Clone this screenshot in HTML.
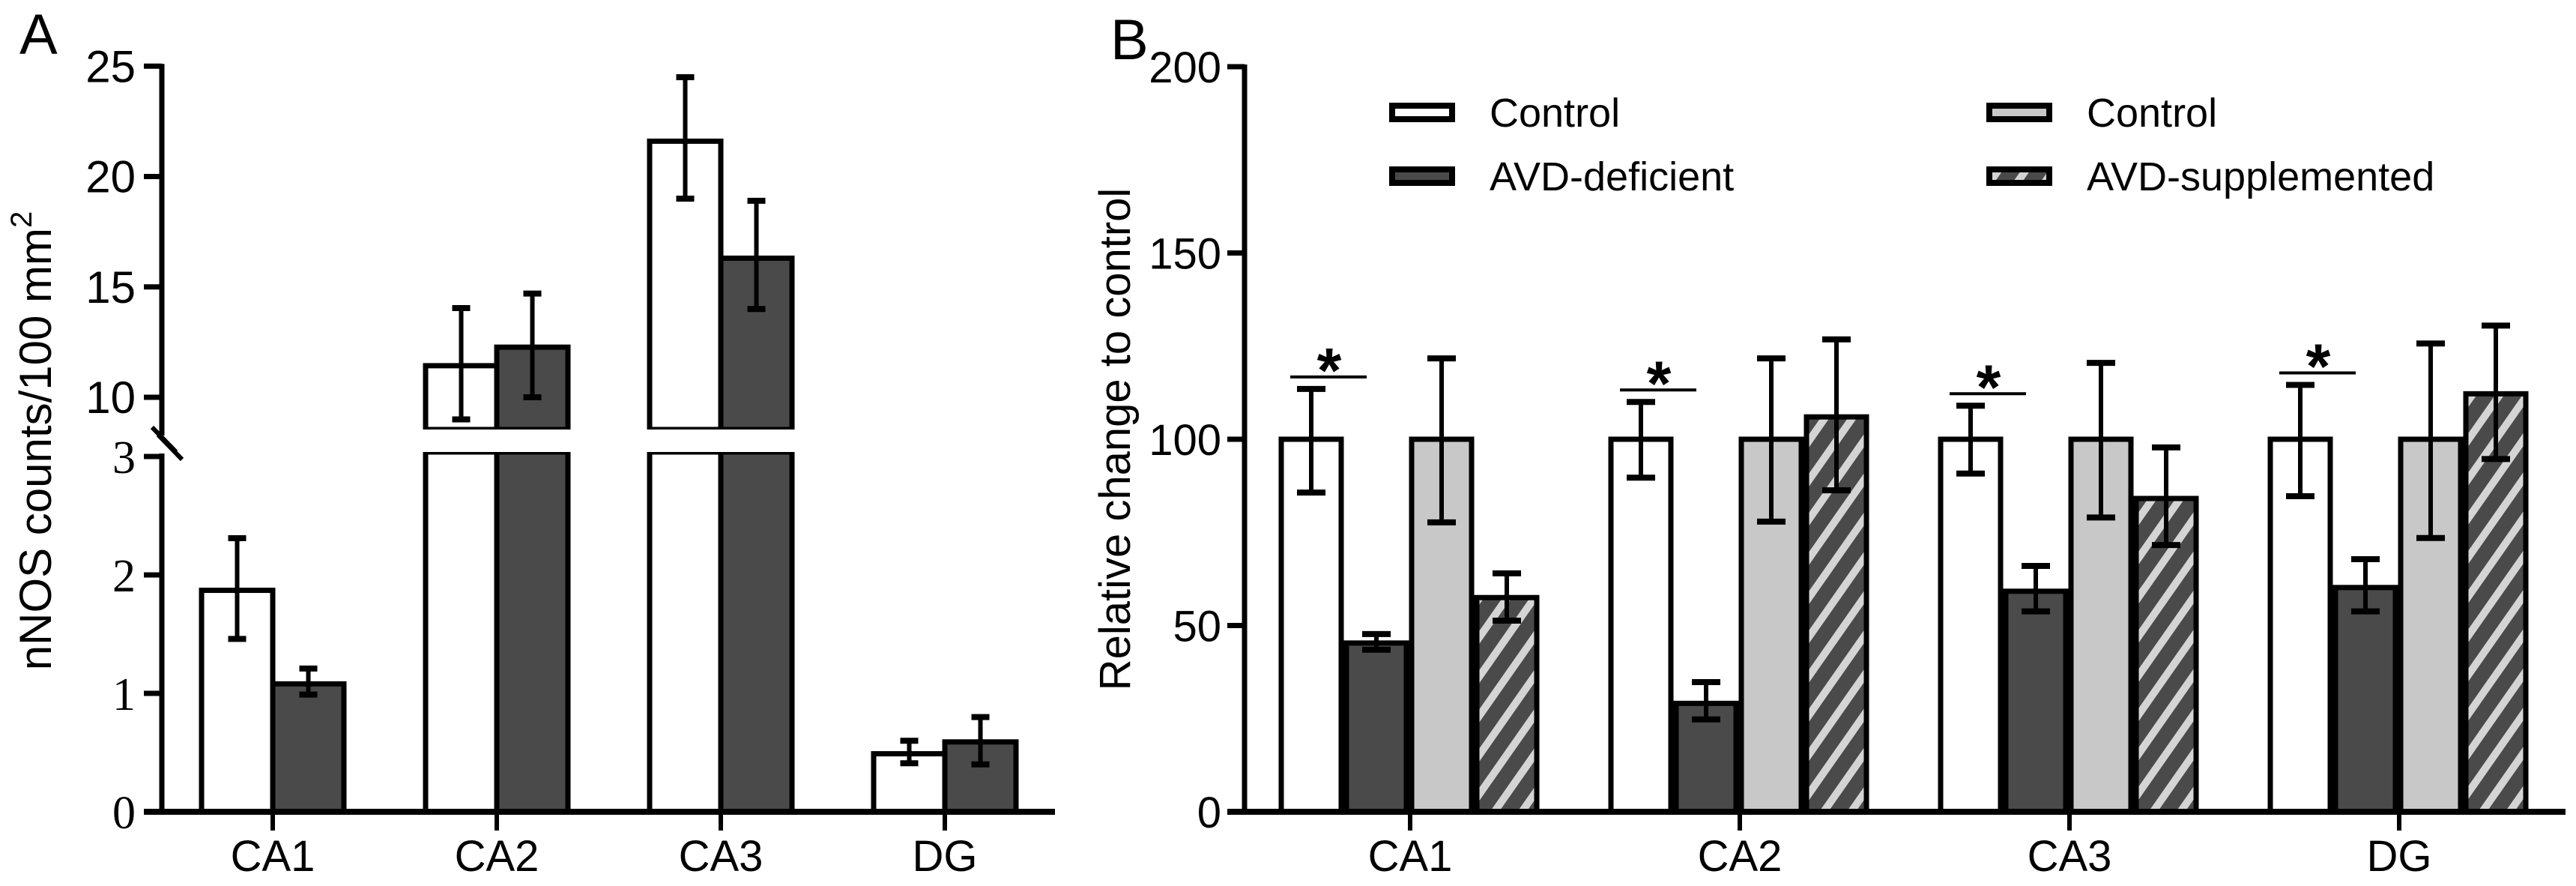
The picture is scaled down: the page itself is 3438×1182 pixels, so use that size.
<!DOCTYPE html>
<html><head><meta charset="utf-8"><style>
html,body{margin:0;padding:0;background:#fff;}
svg{display:block;font-family:"Liberation Sans",Arial,sans-serif;}
</style></head><body>
<svg id="fig" width="3438" height="1182" viewBox="0 0 3438 1182" xmlns="http://www.w3.org/2000/svg">
<defs>
<pattern id="hatch" patternUnits="userSpaceOnUse" width="30" height="30" patternTransform="rotate(35)">
<rect width="30" height="30" fill="#4a4a4a"/><rect x="0" y="0" width="10" height="30" fill="#d4d4d4"/>
</pattern>
</defs>
<text x="26" y="72" font-size="76">A</text>
<text x="1482" y="79" font-size="76">B</text>
<g id="pa"></g>
<g id="pb"></g>
</svg>
<script>
// ---------- Panel A data ----------
const aCategories = ["CA1","CA2","CA3","DG"];
const aControl = [1.87, 11.43, 21.6, 0.49];
const aControlErrHi = [2.31, 14.04, 24.5, 0.60];
const aControlErrLo = [1.46, 9.0, 19.0, 0.41];
const aDeficient = [1.08, 12.27, 16.3, 0.59];
const aDeficientErrHi = [1.21, 14.7, 18.9, 0.80];
const aDeficientErrLo = [0.99, 10.0, 14.0, 0.40];
const aUpperTicks = [10, 15, 20, 25];
const aLowerTicks = [0, 1, 2, 3];
// ---------- Panel B data ----------
const bCategories = ["CA1","CA2","CA3","DG"];
const bControl1 = [100, 100, 100, 100];
const bControl1Hi = [113.5, 110, 109, 114.6];
const bControl1Lo = [85.7, 89.7, 90.8, 84.7];
const bDeficient = [45.3, 29.1, 59.2, 60.2];
const bDeficientHi = [47.7, 34.8, 66, 67.8];
const bDeficientLo = [43.5, 24.8, 53.8, 53.8];
const bControl2 = [100, 100, 100, 100];
const bControl2Hi = [121.7, 121.7, 120.5, 125.7];
const bControl2Lo = [77.7, 77.9, 79, 73.5];
const bSupplemented = [57.5, 106, 84.1, 112.2];
const bSupplementedHi = [64, 126.8, 97.8, 130.5];
const bSupplementedLo = [51.3, 86.3, 71.6, 94.7];
const bTicks = [0, 50, 100, 150, 200];
const bSignificant = [true, true, true, true];

const NS = "http://www.w3.org/2000/svg";
function mk(parent, tag, attrs, text){
  const e = document.createElementNS(NS, tag);
  for (const k in attrs) e.setAttribute(k, attrs[k]);
  if (text !== undefined) e.textContent = text;
  parent.appendChild(e);
  return e;
}
function errBar(g, x, yHi, yLo, cap, name){
  const eg = mk(g, "g", {});
  
  
  mk(eg, "line", {x1:x, x2:x, y1:yHi, y2:yLo, stroke:"#000","stroke-width":6});
  mk(eg, "line", {x1:x-cap/2, x2:x+cap/2, y1:yHi, y2:yHi, stroke:"#000","stroke-width":8});
  mk(eg, "line", {x1:x-cap/2, x2:x+cap/2, y1:yLo, y2:yLo, stroke:"#000","stroke-width":8});
}

// ---------- Panel A ----------
(function(){
  const g = document.getElementById("pa");
  const axX = 216, y0 = 1083, lowPx = 158, upBase = 530, upPx = 29.45;
  const gapTop = 573, gapBot = 603;
  const xc = i => 364 + i*299;
  const yA = v => v <= 3 ? y0 - v*lowPx : upBase - (v-10)*upPx;
  const bw = 95;
  function bar(i, v, hi, lo, left, fill, name){
    const top = yA(v);
    const bg = mk(g, "g", {});
    
    
    if (v <= 3){
      mk(bg, "rect", {x:left, y:top, width:bw, height:y0-top, fill:fill, stroke:"#000","stroke-width":7});
    } else {
      mk(bg, "rect", {x:left, y:top, width:bw, height:gapTop-top, fill:fill, stroke:"#000","stroke-width":7});
      mk(bg, "rect", {x:left, y:gapBot, width:bw, height:y0-gapBot, fill:fill, stroke:"#000","stroke-width":7});
      mk(bg, "rect", {x:left-6, y:gapTop, width:bw+12, height:gapBot-gapTop, fill:"#fff"});
    }
    errBar(g, left+bw/2, yA(hi), yA(lo), 24, name+"-error");
  }
  aCategories.forEach((c,i)=>{
    bar(i, aControl[i], aControlErrHi[i], aControlErrLo[i], xc(i)-bw, "#fff", "control-bar-"+c.toLowerCase());
    bar(i, aDeficient[i], aDeficientErrHi[i], aDeficientErrLo[i], xc(i), "#4a4a4a", "deficient-bar-"+c.toLowerCase());
    const t = mk(g, "text", {x:xc(i), y:1162, "font-size":58, "text-anchor":"middle"}, c);
    
    
    mk(g, "line", {x1:xc(i), x2:xc(i), y1:y0, y2:y0+25, stroke:"#000","stroke-width":6});
  });
  const ya = mk(g, "g", {});
  
  
  mk(ya, "line", {x1:axX, x2:axX, y1:yA(25)-3, y2:gapTop+8, stroke:"#000","stroke-width":7});
  mk(ya, "line", {x1:axX, x2:axX, y1:gapBot+2, y2:y0+4, stroke:"#000","stroke-width":7});
  mk(ya, "line", {x1:203, x2:235, y1:570, y2:603, stroke:"#000","stroke-width":6});
  mk(ya, "line", {x1:211, x2:243, y1:580, y2:613, stroke:"#000","stroke-width":6});
  aUpperTicks.forEach(v=>{
    mk(ya, "line", {x1:192, x2:axX, y1:yA(v), y2:yA(v), stroke:"#000","stroke-width":7});
    mk(ya, "text", {x:181, y:yA(v)+21, "font-size":60, "text-anchor":"end"}, String(v));
  });
  aLowerTicks.forEach(v=>{
    mk(ya, "line", {x1:192, x2:axX, y1:yA(v), y2:yA(v), stroke:"#000","stroke-width":7});
    mk(ya, "text", {x:181, y:yA(v)+22, "font-size":62, "text-anchor":"end", "font-family":"Liberation Serif, serif"}, String(v));
  });
  const xa = mk(g, "line", {x1:192, x2:1408, y1:y0, y2:y0, stroke:"#000","stroke-width":8});
  
  
  const yt = mk(g, "text", {x:0, y:0, "font-size":60, "text-anchor":"middle", transform:"translate(68,588) rotate(-90)"});
  
  
  yt.appendChild(document.createTextNode("nNOS counts/100 mm"));
  mk(yt, "tspan", {"font-size":40, dy:-26}, "2");
})();

// ---------- Panel B ----------
(function(){
  const g = document.getElementById("pb");
  const axX = 1661, y0 = 1083, px = 4.97;
  const yB = v => y0 - v*px;
  const xc = i => 1882 + i*440;
  const bw = 84;
  const series = [
    {v:bControl1, hi:bControl1Hi, lo:bControl1Lo, fill:"#fff", name:"control-bar"},
    {v:bDeficient, hi:bDeficientHi, lo:bDeficientLo, fill:"#4a4a4a", name:"deficient-bar"},
    {v:bControl2, hi:bControl2Hi, lo:bControl2Lo, fill:"#c8c8c8", name:"control2-bar"},
    {v:bSupplemented, hi:bSupplementedHi, lo:bSupplementedLo, fill:"url(#hatch)", name:"supplemented-bar"}
  ];
  bCategories.forEach((c,i)=>{
    series.forEach((s,k)=>{
      const left = xc(i) - 2*bw - 4 + k*(bw+3);
      const r = mk(g, "rect", {x:left, y:yB(s.v[i]), width:bw-4, height:y0-yB(s.v[i]), fill:s.fill, stroke:"#000","stroke-width":7});
      
      
      errBar(g, left+(bw-4)/2, yB(s.hi[i]), yB(s.lo[i]), 38, s.name+'-'+c.toLowerCase()+'-error');
    });
    if (bSignificant[i]){
      const sy = yB(bControl1Hi[i]) - 16;
      const sg = mk(g, "g", {});
      
      
      mk(sg, "line", {x1:xc(i)-160, x2:xc(i)-58, y1:sy, y2:sy, stroke:"#000","stroke-width":4});
      mk(sg, "text", {x:xc(i)-108, y:sy+20, "font-size":84, "font-weight":"bold", "text-anchor":"middle"}, "*");
    }
    mk(g, "line", {x1:xc(i), x2:xc(i), y1:y0, y2:y0+25, stroke:"#000","stroke-width":6});
    const t = mk(g, "text", {x:xc(i), y:1162, "font-size":58, "text-anchor":"middle"}, c);
    
    
  });
  const ya = mk(g, "g", {});
  
  
  mk(ya, "line", {x1:axX, x2:axX, y1:yB(200)-3, y2:y0+4, stroke:"#000","stroke-width":7});
  bTicks.forEach(v=>{
    mk(ya, "line", {x1:1638, x2:axX, y1:yB(v), y2:yB(v), stroke:"#000","stroke-width":7});
    mk(ya, "text", {x:1630, y:yB(v)+21, "font-size":58, "text-anchor":"end"}, String(v));
  });
  const xa = mk(g, "line", {x1:1638, x2:3424, y1:y0, y2:y0, stroke:"#000","stroke-width":8});
  
  
  const yt = mk(g, "text", {x:0, y:0, "font-size":58, "text-anchor":"middle", transform:"translate(1508,586) rotate(-90)"}, "Relative change to control");
  
  
  const legend = [
    {x:1858, y:150, fill:"#fff", label:"Control", n:"legend-control"},
    {x:1858, y:235, fill:"#4a4a4a", label:"AVD-deficient", n:"legend-deficient"},
    {x:2655, y:150, fill:"#c8c8c8", label:"Control", n:"legend-control-2"},
    {x:2655, y:235, fill:"url(#hatch)", label:"AVD-supplemented", n:"legend-supplemented"}
  ];
  legend.forEach(l=>{
    const lg = mk(g, "g", {});
    
    
    mk(lg, "rect", {x:l.x, y:l.y-9, width:80, height:18, fill:l.fill, stroke:"#000","stroke-width":8});
    mk(lg, "text", {x:l.x+130, y:l.y+19, "font-size":54}, l.label);
  });
})();
</script>
</body></html>
